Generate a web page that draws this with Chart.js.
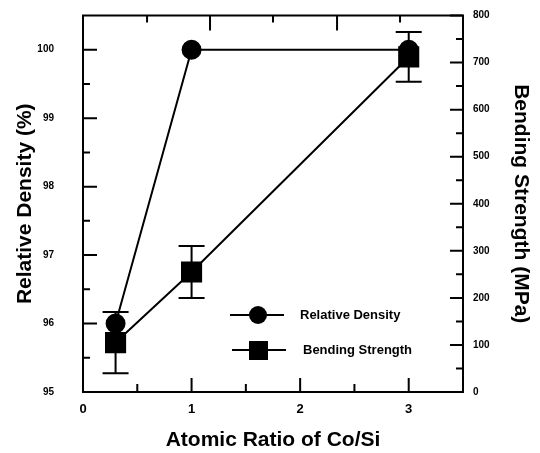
<!DOCTYPE html>
<html>
<head>
<meta charset="utf-8">
<script src="https://cdn.jsdelivr.net/npm/chart.js@4/dist/chart.umd.min.js"></script>
<style>
  html, body { margin: 0; padding: 0; background: #fff; }
  #wrap { width: 540px; height: 453px; }
</style>
</head>
<body>
<div id="wrap"><canvas id="chart"></canvas></div>
<script>
// measured samples
const ratio = [0.3, 1, 3];
const density = [96.0, 100.0, 100.0];
const strength = [105, 255, 712];
const strengthErr = [65, 55, 53];

// axis ticks
const ratioTicks = [0, 1, 2, 3];
const ratioMinor = [0.5, 1.5, 2.5];
const topMajor = [1.17, 2.34];
const topMinor = [0.59, 1.75, 2.92];
const densityTicks = [95, 96, 97, 98, 99, 100];
const densityMinor = [95.5, 96.5, 97.5, 98.5, 99.5];
const strengthTicks = [0, 100, 200, 300, 400, 500, 600, 700, 800];
const strengthMinor = [50, 150, 250, 350, 450, 550, 650, 750];

const FONT = "'Liberation Sans', Arial, sans-serif";
const NARROW = "'Liberation Sans Narrow', 'Liberation Sans', Arial, sans-serif";

function fixTicks(list) {
  return function (scale) {
    scale.ticks = list.map(v => ({ value: v }));
  };
}

// fixed axis widths; drop the label padding Chart.js adds above/below the plot
function fixWidth(w) {
  return function (s) {
    s.width = w;
    s.paddingTop = 0;
    s.paddingBottom = 0;
  };
}

// inward tick marks on all four sides + frame
const frameTicks = {
  id: 'frameTicks',
  afterDraw(chart) {
    const ctx = chart.ctx;
    const a = chart.chartArea;
    const x = chart.scales.x, y = chart.scales.y, y2 = chart.scales.y2;
    ctx.save();
    ctx.strokeStyle = '#000';
    ctx.lineWidth = 2;
    ctx.beginPath();
    function hTick(px, py, len) { ctx.moveTo(px, py); ctx.lineTo(px + len, py); }
    function vTick(px, py, len) { ctx.moveTo(px, py); ctx.lineTo(px, py + len); }
    densityTicks.forEach(v => hTick(a.left, y.getPixelForValue(v), 14));
    densityMinor.forEach(v => hTick(a.left, y.getPixelForValue(v), 7));
    strengthTicks.forEach(v => hTick(a.right, y2.getPixelForValue(v), -13));
    strengthMinor.forEach(v => hTick(a.right, y2.getPixelForValue(v), -7));
    ratioTicks.forEach(v => vTick(x.getPixelForValue(v), a.bottom, -14));
    ratioMinor.forEach(v => vTick(x.getPixelForValue(v), a.bottom, -8));
    topMajor.forEach(v => vTick(x.getPixelForValue(v), a.top, 15));
    topMinor.forEach(v => vTick(x.getPixelForValue(v), a.top, 7));
    ctx.stroke();
    ctx.strokeRect(a.left, a.top, a.right - a.left, a.bottom - a.top);
    ctx.restore();
  }
};

// error bars for bending strength
const errorBars = {
  id: 'errorBars',
  afterDatasetsDraw(chart) {
    const ctx = chart.ctx;
    const x = chart.scales.x, y2 = chart.scales.y2;
    ctx.save();
    ctx.strokeStyle = '#000';
    ctx.lineWidth = 2;
    ctx.beginPath();
    ratio.forEach((r, i) => {
      const px = x.getPixelForValue(r);
      const top = y2.getPixelForValue(strength[i] + strengthErr[i]);
      const bot = y2.getPixelForValue(strength[i] - strengthErr[i]);
      ctx.moveTo(px, top); ctx.lineTo(px, bot);
      ctx.moveTo(px - 13, top); ctx.lineTo(px + 13, top);
      ctx.moveTo(px - 13, bot); ctx.lineTo(px + 13, bot);
    });
    ctx.stroke();
    ctx.restore();
  }
};

// legend inside the plot, line through marker
const innerLegend = {
  id: 'innerLegend',
  afterDraw(chart) {
    const ctx = chart.ctx;
    ctx.save();
    ctx.fillStyle = '#000';
    ctx.strokeStyle = '#000';
    ctx.lineWidth = 2;
    ctx.font = "bold 13px " + FONT;
    ctx.textBaseline = 'middle';
    ctx.beginPath();
    ctx.moveTo(230, 315); ctx.lineTo(284, 315);
    ctx.moveTo(232, 350); ctx.lineTo(286, 350);
    ctx.stroke();
    ctx.beginPath();
    ctx.arc(258, 315, 9, 0, Math.PI * 2);
    ctx.fill();
    ctx.fillRect(249, 341, 19, 19);
    ctx.fillText('Relative Density', 300, 315);
    ctx.fillText('Bending Strength', 303, 350);
    ctx.restore();
  }
};

new Chart(document.getElementById('chart'), {
  type: 'scatter',
  data: {
    datasets: [{
      label: 'Relative Density',
      data: ratio.map((r, i) => ({ x: r, y: density[i] })),
      yAxisID: 'y',
      showLine: true,
      borderColor: '#000',
      backgroundColor: '#000',
      borderWidth: 2,
      pointStyle: 'circle',
      pointRadius: 9,
      pointHoverRadius: 9
    }, {
      label: 'Bending Strength',
      data: ratio.map((r, i) => ({ x: r, y: strength[i] })),
      yAxisID: 'y2',
      showLine: true,
      borderColor: '#000',
      backgroundColor: '#000',
      borderWidth: 2,
      pointStyle: 'rect',
      pointRadius: 13.5,
      pointHoverRadius: 13.5
    }]
  },
  options: {
    responsive: true,
    maintainAspectRatio: false,
    animation: false,
    events: [],
    layout: { padding: { top: 13, left: 0, right: 0, bottom: 0 } },
    plugins: { legend: { display: false }, tooltip: { enabled: false } },
    scales: {
      x: {
        type: 'linear',
        min: 0, max: 3.5,
        afterBuildTicks: fixTicks(ratioTicks),
        afterFit(s) { s.height = 61; },
        grid: { display: false, drawTicks: false },
        border: { display: false },
        ticks: { color: '#000', padding: 10, font: { family: FONT, size: 13, weight: 'bold' } },
        title: { display: true, text: 'Atomic Ratio of Co/Si', color: '#000',
                 padding: { top: 3, bottom: 0 }, font: { family: FONT, size: 21, weight: 'bold' } }
      },
      y: {
        type: 'linear',
        position: 'left',
        min: 95, max: 100.5,
        afterBuildTicks: fixTicks(densityTicks),
        afterFit: fixWidth(83),
        grid: { display: false, drawTicks: false },
        border: { display: false },
        ticks: { color: '#000', padding: 29, font: { family: NARROW, size: 10, weight: 'bold' } },
        title: { display: true, text: 'Relative Density (%)', color: '#000',
                 padding: { top: 13, bottom: 0 }, font: { family: FONT, size: 21, weight: 'bold' } }
      },
      y2: {
        type: 'linear',
        position: 'right',
        min: 0, max: 800,
        afterBuildTicks: fixTicks(strengthTicks),
        afterFit: fixWidth(77),
        grid: { display: false, drawTicks: false },
        border: { display: false },
        ticks: { color: '#000', padding: 10, font: { family: NARROW, size: 10, weight: 'bold' } },
        title: { display: true, text: 'Bending Strength (MPa)', color: '#000',
                 padding: { top: 7, bottom: 0 }, font: { family: FONT, size: 21, weight: 'bold' } }
      }
    }
  },
  plugins: [errorBars, frameTicks, innerLegend]
});
</script>
</body>
</html>
